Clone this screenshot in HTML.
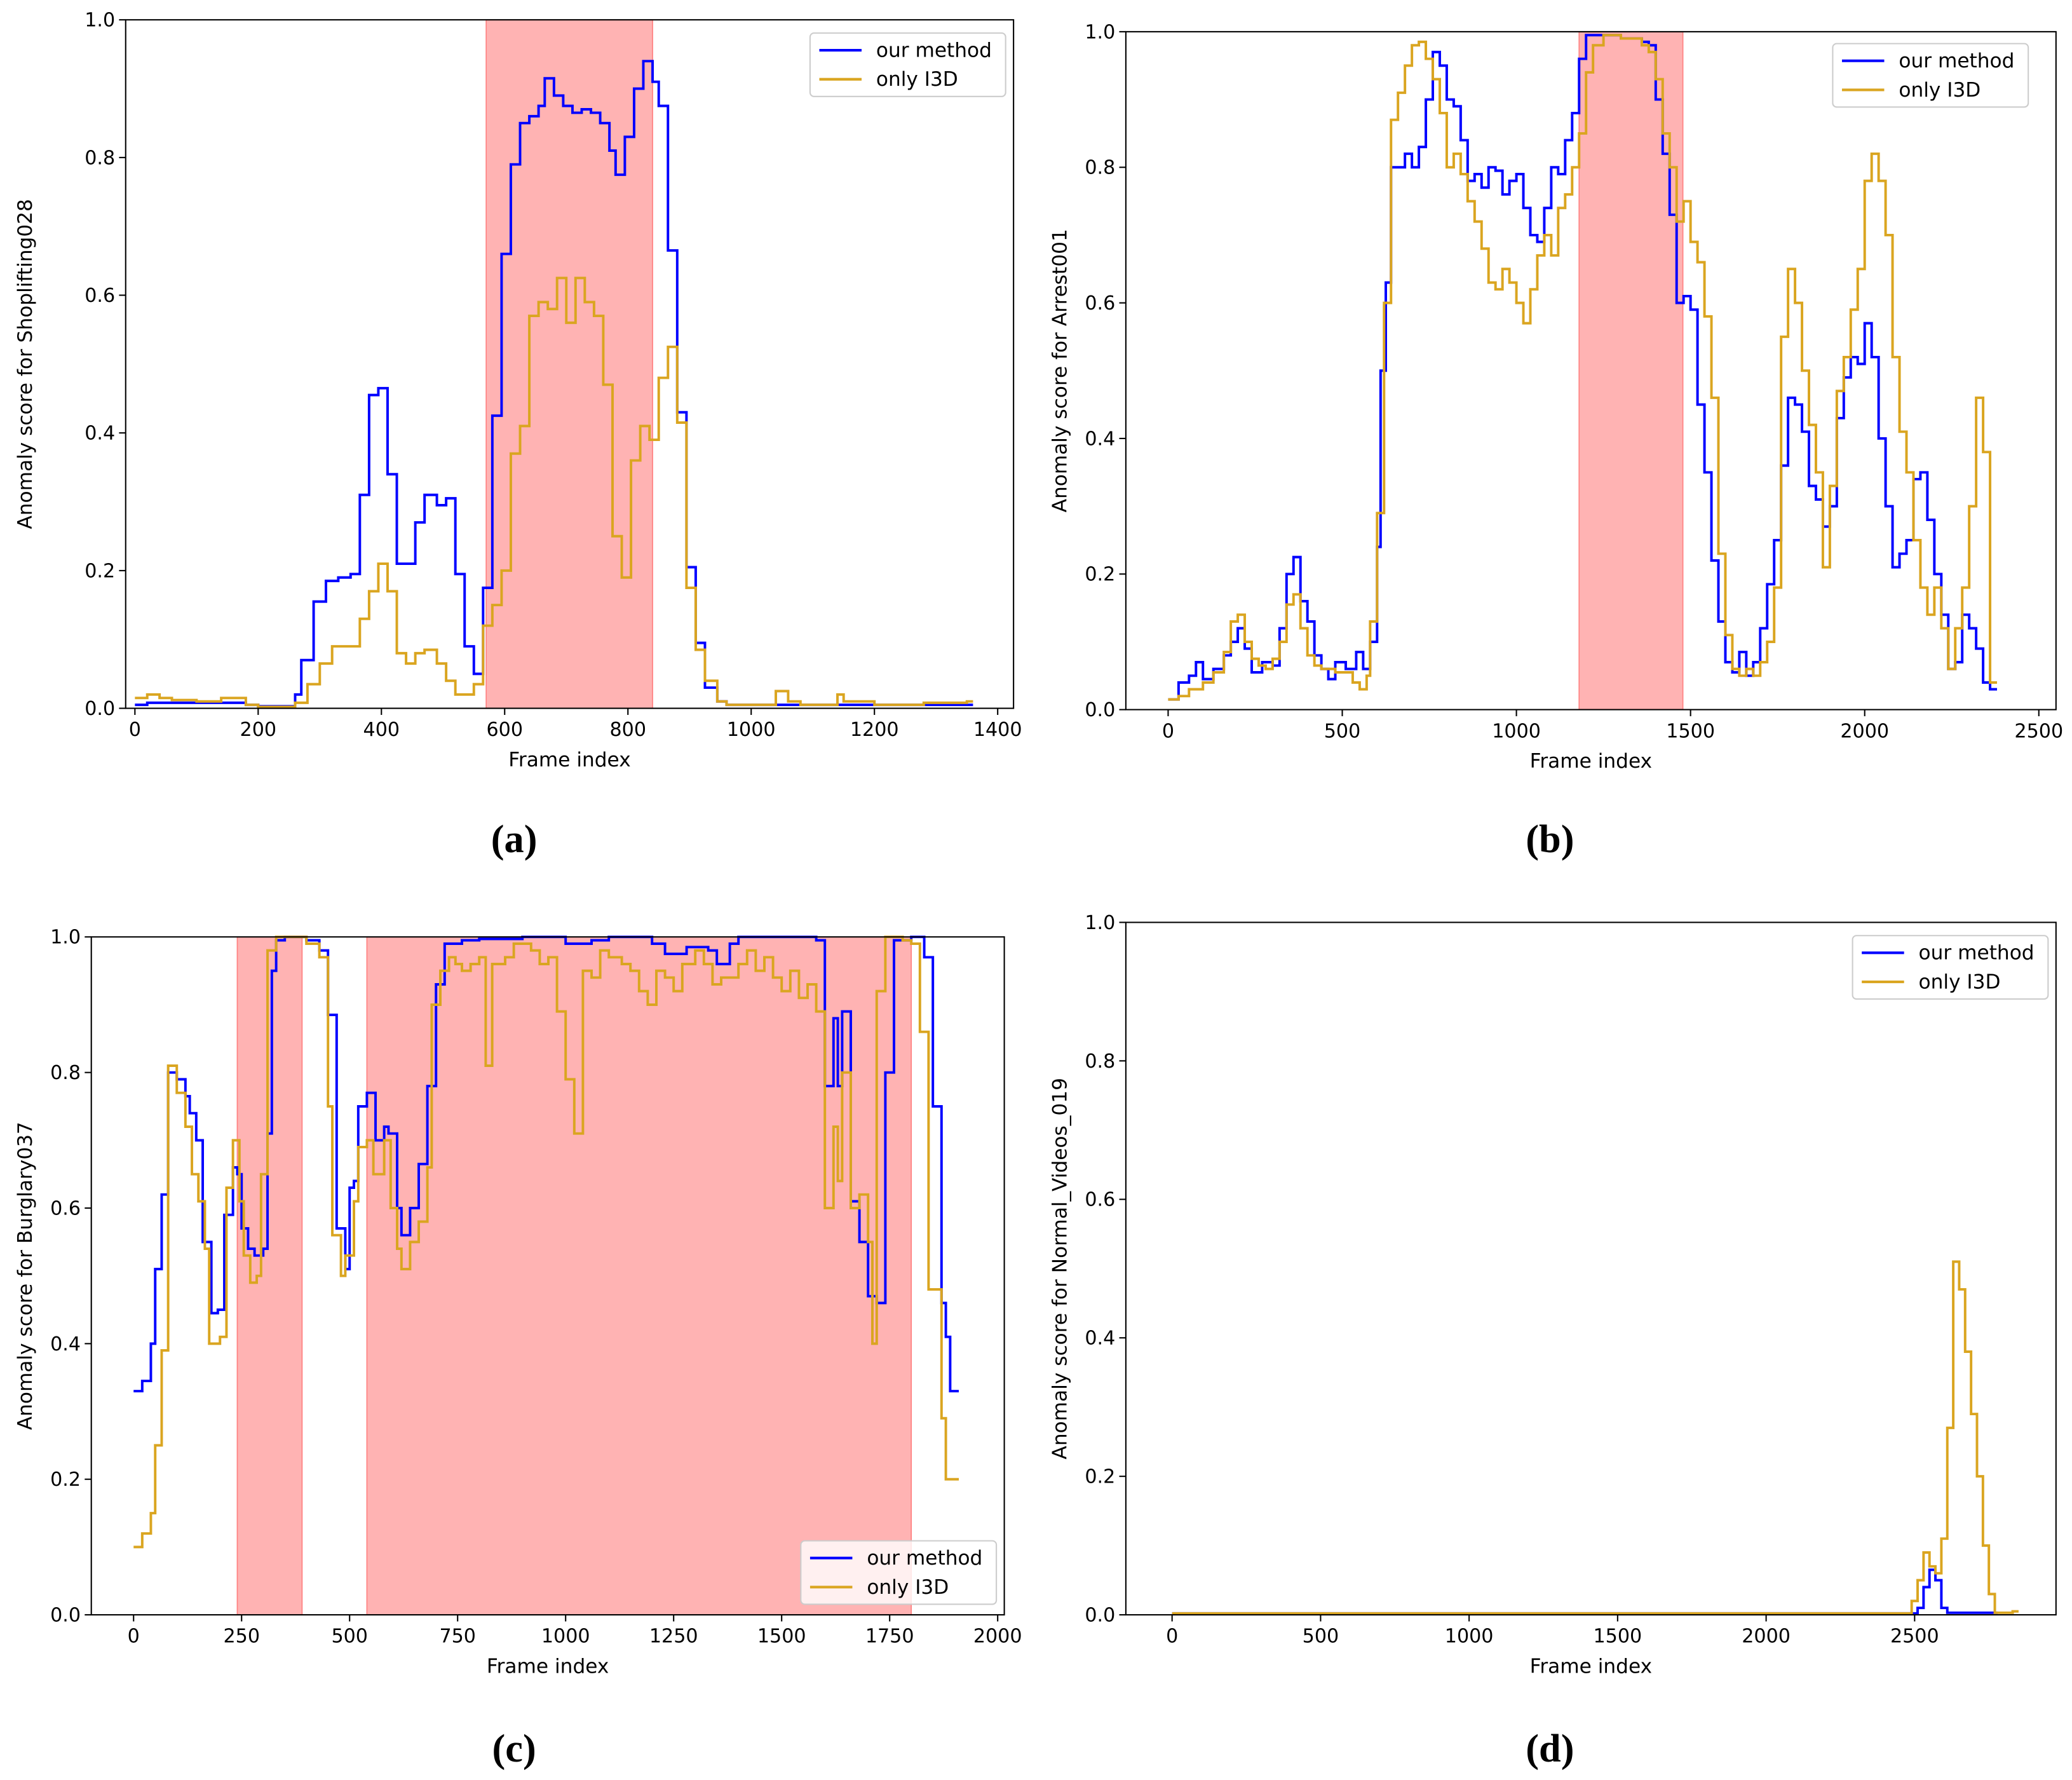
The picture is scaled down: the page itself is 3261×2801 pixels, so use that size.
<!DOCTYPE html>
<html><head><meta charset="utf-8">
<style>
html,body{margin:0;padding:0;background:#fff;}
svg{display:block;font-family:"DejaVu Sans","Liberation Sans",sans-serif;}
</style></head>
<body>
<svg id="fig" width="3261" height="2801" viewBox="0 0 1568 1347" xmlns="http://www.w3.org/2000/svg"></svg>
<script>
// ---------- Data ----------
const aBlueX=[0,20,180,200,260,270,290,310,330,350,365,380,395,410,425,440,455,470,490,505,520,535,550,565,580,595,610,625,640,655,665,680,695,710,725,740,755,770,780,795,810,825,840,850,865,880,895,910,925,945,960,1360];
const aBlueY=[0.005,0.008,0.005,0.003,0.02,0.07,0.155,0.185,0.19,0.195,0.31,0.455,0.465,0.34,0.21,0.21,0.27,0.31,0.295,0.305,0.195,0.09,0.05,0.175,0.425,0.66,0.79,0.85,0.86,0.875,0.915,0.89,0.875,0.865,0.87,0.865,0.85,0.81,0.775,0.83,0.9,0.94,0.91,0.875,0.665,0.43,0.205,0.095,0.03,0.01,0.005,0.005];
const aOrgX=[0,20,40,60,100,140,180,200,260,280,300,320,340,355,365,380,395,410,425,440,455,470,490,505,520,540,550,565,580,595,610,625,640,655,670,685,700,715,730,745,760,775,790,805,820,835,850,865,880,895,910,925,945,960,1040,1060,1080,1140,1150,1200,1280,1350,1360];
const aOrgY=[0.015,0.02,0.015,0.012,0.01,0.015,0.005,0.002,0.008,0.035,0.065,0.09,0.09,0.09,0.13,0.17,0.21,0.17,0.08,0.065,0.08,0.085,0.065,0.04,0.02,0.02,0.035,0.12,0.15,0.2,0.37,0.41,0.57,0.59,0.58,0.625,0.56,0.625,0.59,0.57,0.47,0.25,0.19,0.36,0.41,0.39,0.48,0.525,0.415,0.175,0.085,0.04,0.01,0.005,0.025,0.01,0.005,0.02,0.01,0.005,0.008,0.01,0.01];
const aSpans=[[570,840]];

const bBlueX=[0,30,60,80,100,130,160,180,200,220,240,270,300,320,340,360,380,400,420,440,460,480,510,540,560,580,600,610,625,640,660,680,700,720,740,760,780,800,820,840,860,880,900,920,940,960,980,1000,1020,1040,1060,1080,1100,1120,1140,1160,1180,1200,1250,1300,1360,1380,1400,1420,1440,1460,1480,1500,1520,1540,1560,1580,1600,1620,1640,1660,1680,1700,1720,1740,1760,1780,1800,1820,1840,1860,1880,1900,1920,1940,1960,1980,2000,2020,2040,2060,2080,2100,2120,2140,2160,2180,2200,2220,2240,2260,2280,2300,2320,2340,2360,2380];
const bBlueY=[0.015,0.04,0.05,0.07,0.045,0.06,0.08,0.1,0.12,0.09,0.055,0.07,0.065,0.12,0.2,0.225,0.16,0.13,0.08,0.06,0.045,0.07,0.06,0.085,0.06,0.1,0.24,0.5,0.63,0.8,0.8,0.82,0.8,0.83,0.9,0.97,0.95,0.9,0.89,0.84,0.78,0.79,0.77,0.8,0.795,0.76,0.78,0.79,0.74,0.7,0.69,0.74,0.8,0.79,0.84,0.88,0.96,0.995,0.995,0.99,0.985,0.98,0.9,0.82,0.73,0.6,0.61,0.59,0.45,0.35,0.22,0.13,0.07,0.055,0.085,0.05,0.07,0.12,0.185,0.25,0.36,0.46,0.45,0.41,0.33,0.31,0.27,0.3,0.43,0.49,0.52,0.51,0.57,0.52,0.4,0.3,0.21,0.23,0.25,0.34,0.35,0.28,0.2,0.14,0.06,0.07,0.14,0.12,0.09,0.04,0.03,0.03];
const bOrgX=[0,30,60,100,130,160,180,200,220,240,260,280,300,320,340,360,380,400,420,440,460,480,510,530,550,570,580,600,620,640,660,680,700,720,740,760,780,800,820,840,860,880,900,920,940,960,980,1000,1020,1040,1060,1080,1100,1120,1140,1160,1180,1200,1220,1250,1300,1360,1380,1400,1420,1440,1460,1480,1500,1520,1540,1560,1580,1600,1620,1640,1660,1680,1700,1720,1740,1760,1780,1800,1820,1840,1860,1880,1900,1920,1940,1960,1980,2000,2020,2040,2060,2080,2100,2120,2140,2160,2180,2200,2220,2240,2260,2280,2300,2320,2340,2360,2380];
const bOrgY=[0.015,0.02,0.03,0.04,0.055,0.085,0.13,0.14,0.1,0.075,0.065,0.06,0.075,0.1,0.155,0.17,0.12,0.08,0.065,0.06,0.06,0.055,0.055,0.04,0.03,0.05,0.13,0.29,0.6,0.87,0.91,0.95,0.98,0.985,0.96,0.93,0.88,0.8,0.82,0.79,0.75,0.72,0.68,0.63,0.62,0.65,0.63,0.6,0.57,0.62,0.67,0.7,0.67,0.74,0.76,0.8,0.85,0.94,0.98,0.995,0.99,0.98,0.97,0.93,0.85,0.8,0.72,0.75,0.69,0.66,0.58,0.46,0.23,0.11,0.06,0.05,0.06,0.05,0.07,0.1,0.18,0.55,0.65,0.6,0.5,0.42,0.35,0.21,0.33,0.47,0.52,0.59,0.65,0.78,0.82,0.78,0.7,0.52,0.41,0.35,0.25,0.18,0.14,0.18,0.12,0.06,0.12,0.18,0.3,0.46,0.38,0.04,0.04];
const bSpans=[[1180,1478]];

const cBlueX=[0,20,40,50,65,80,100,120,130,145,160,180,195,210,230,240,250,265,280,300,310,320,330,350,400,430,450,470,490,500,510,520,540,560,580,590,610,620,640,660,680,700,720,760,800,900,1000,1060,1100,1200,1230,1280,1330,1350,1380,1400,1450,1550,1580,1600,1620,1630,1640,1660,1680,1700,1720,1740,1760,1800,1830,1850,1870,1880,1890,1910];
const cBlueY=[0.33,0.345,0.4,0.51,0.62,0.8,0.79,0.765,0.74,0.7,0.55,0.445,0.45,0.59,0.66,0.65,0.57,0.54,0.53,0.54,0.71,0.95,0.995,1.0,0.995,0.98,0.885,0.57,0.51,0.63,0.64,0.75,0.77,0.7,0.72,0.71,0.6,0.56,0.6,0.665,0.78,0.93,0.99,0.995,0.997,1.0,0.99,0.995,1.0,0.99,0.975,0.985,0.98,0.96,0.99,1.0,1.0,1.0,0.995,0.78,0.88,0.78,0.89,0.61,0.55,0.47,0.46,0.8,0.995,1.0,0.97,0.75,0.46,0.41,0.33,0.33];
const cOrgX=[0,20,40,50,65,80,100,120,135,150,165,175,200,215,230,245,255,270,285,295,310,330,400,430,450,460,480,490,510,520,540,555,580,595,610,620,640,660,680,690,710,730,745,760,780,800,815,830,860,880,920,940,960,980,1000,1020,1040,1060,1080,1100,1130,1150,1170,1190,1210,1230,1250,1270,1300,1320,1340,1360,1400,1420,1440,1460,1480,1500,1520,1540,1560,1580,1600,1620,1630,1640,1660,1680,1700,1710,1720,1740,1780,1800,1820,1840,1870,1880,1910];
const cOrgY=[0.1,0.12,0.15,0.25,0.39,0.81,0.77,0.72,0.65,0.61,0.54,0.4,0.41,0.63,0.7,0.61,0.53,0.49,0.5,0.65,0.98,1.0,0.99,0.97,0.75,0.56,0.5,0.53,0.61,0.69,0.7,0.65,0.7,0.6,0.54,0.51,0.55,0.58,0.66,0.9,0.95,0.97,0.96,0.95,0.96,0.97,0.81,0.96,0.97,0.99,0.98,0.96,0.97,0.89,0.79,0.71,0.95,0.94,0.98,0.97,0.96,0.95,0.92,0.9,0.95,0.94,0.92,0.96,0.98,0.96,0.93,0.94,0.96,0.98,0.95,0.97,0.94,0.92,0.95,0.91,0.93,0.89,0.6,0.72,0.64,0.8,0.6,0.62,0.55,0.4,0.92,1.0,0.995,0.99,0.86,0.48,0.29,0.2,0.2];
const cSpans=[[240,390],[540,1800]];

const dBlueX=[0,2510,2530,2550,2570,2590,2610,2780];
const dBlueY=[0.002,0.01,0.04,0.065,0.05,0.01,0.003,0.003];
const dOrgX=[0,2490,2510,2530,2550,2570,2590,2610,2630,2650,2670,2690,2710,2730,2750,2770,2830,2850];
const dOrgY=[0.002,0.02,0.05,0.09,0.07,0.06,0.11,0.27,0.51,0.47,0.38,0.29,0.2,0.1,0.03,0.003,0.005,0.005];
const dSpans=[];

const yTicks=[0,0.2,0.4,0.6,0.8,1.0];
const aXTicks=[0,200,400,600,800,1000,1200,1400];
const bXTicks=[0,500,1000,1500,2000,2500];
const cXTicks=[0,250,500,750,1000,1250,1500,1750,2000];
const dXTicks=[0,500,1000,1500,2000,2500];

// ---------- Drawing ----------
const NS="http://www.w3.org/2000/svg";
const fig=document.getElementById('fig');
function mk(tag,attrs,parent){const e=document.createElementNS(NS,tag);for(const k in attrs)e.setAttribute(k,attrs[k]);parent.appendChild(e);return e;}

function panel(p){
  const g=mk('g',{},fig);
  
  
  const sx=v=>p.x0px+(v-0)*p.kx;
  const sy=v=>p.bottom-(v)*(p.bottom-p.y1px);
  p.spans.forEach((s,i)=>{
    const r=mk('rect',{x:sx(s[0]),y:p.top,width:sx(s[1])-sx(s[0]),height:p.bottom-p.top,fill:'#ffb3b3',stroke:'#ff8080','stroke-width':0.8},g);
    
    
  });
  function step(X,Y,color,name){
    let d='M'+sx(X[0])+','+sy(Y[0]);
    for(let i=1;i<X.length;i++){d+='H'+sx(X[i])+'V'+sy(Y[i]);}
    const pth=mk('path',{d:d,fill:'none',stroke:color,'stroke-width':1.9,'stroke-linejoin':'miter'},g);
    
    
  }
  step(p.bx,p.by,'#0000ff','our-method-line');
  step(p.ox,p.oy,'#daa520','only-i3d-line');
  const fr=mk('rect',{x:p.left,y:p.top,width:p.right-p.left,height:p.bottom-p.top,fill:'none',stroke:'#000','stroke-width':1},g);
  
  
  p.xt.forEach(t=>{
    const x=sx(t);
    mk('line',{x1:x,y1:p.bottom,x2:x,y2:p.bottom+5,stroke:'#000','stroke-width':1},g);
    const tx=mk('text',{x:x,y:p.bottom+21,'font-size':14.5,'text-anchor':'middle',fill:'#000'},g);
    tx.textContent=String(t);
    
    
  });
  yTicks.forEach(t=>{
    const y=sy(t);
    mk('line',{x1:p.left,y1:y,x2:p.left-5,y2:y,stroke:'#000','stroke-width':1},g);
    const tx=mk('text',{x:p.left-8,y:y+5,'font-size':14.5,'text-anchor':'end',fill:'#000'},g);
    tx.textContent=t.toFixed(1);
    
    
  });
  const xl=mk('text',{x:(p.left+p.right)/2,y:p.bottom+44,'font-size':15,'text-anchor':'middle',fill:'#000'},g);
  xl.textContent='Frame index';
  
  
  const cy=(p.top+p.bottom)/2;
  const yl=mk('text',{x:p.ylx,y:cy,'font-size':15,'text-anchor':'middle',fill:'#000',transform:'rotate(-90 '+p.ylx+' '+cy+')'},g);
  yl.textContent='Anomaly score for '+p.name;
  
  
  const lg=mk('g',{},g);
  
  
  mk('rect',{x:p.lgx,y:p.lgy,width:148,height:48,rx:3,fill:'#fff','fill-opacity':0.8,stroke:'#ccc','stroke-width':1},lg);
  [['our method','#0000ff'],['only I3D','#daa520']].forEach((e,i)=>{
    const yy=p.lgy+13+i*22;
    mk('line',{x1:p.lgx+7,y1:yy,x2:p.lgx+39,y2:yy,stroke:e[1],'stroke-width':2},lg);
    const t=mk('text',{x:p.lgx+50,y:yy+5,'font-size':15,fill:'#000'},lg);
    t.textContent=e[0];
    
    
  });
  const cap=mk('text',{x:p.capx,y:p.capy,'font-size':30,'font-weight':'bold','text-anchor':'middle','font-family':'"Liberation Serif",serif',fill:'#000'},g);
  cap.textContent=p.cap;
  
  
}

panel({id:'a',name:'Shoplifting028',left:95,right:767,top:15,bottom:536,y1px:15,x0px:102,kx:653/1400,spans:aSpans,bx:aBlueX,by:aBlueY,ox:aOrgX,oy:aOrgY,xt:aXTicks,ylx:24,lgx:613,lgy:25,cap:'(a)',capx:389,capy:645});
panel({id:'b',name:'Arrest001',left:852,right:1556,top:24,bottom:537,y1px:24,x0px:884,kx:659/2500,spans:bSpans,bx:bBlueX,by:bBlueY,ox:bOrgX,oy:bOrgY,xt:bXTicks,ylx:807,lgx:1387,lgy:33,cap:'(b)',capx:1173,capy:645});
panel({id:'c',name:'Burglary037',left:69,right:760,top:709,bottom:1222,y1px:709,x0px:101,kx:654/2000,spans:cSpans,bx:cBlueX,by:cBlueY,ox:cOrgX,oy:cOrgY,xt:cXTicks,ylx:24,lgx:606,lgy:1166,cap:'(c)',capx:389,capy:1333});
panel({id:'d',name:'Normal_Videos_019',left:852,right:1556,top:698,bottom:1222,y1px:698,x0px:887,kx:562/2500,spans:dSpans,bx:dBlueX,by:dBlueY,ox:dOrgX,oy:dOrgY,xt:dXTicks,ylx:807,lgx:1402,lgy:708,cap:'(d)',capx:1173,capy:1333});
</script>
</body></html>
